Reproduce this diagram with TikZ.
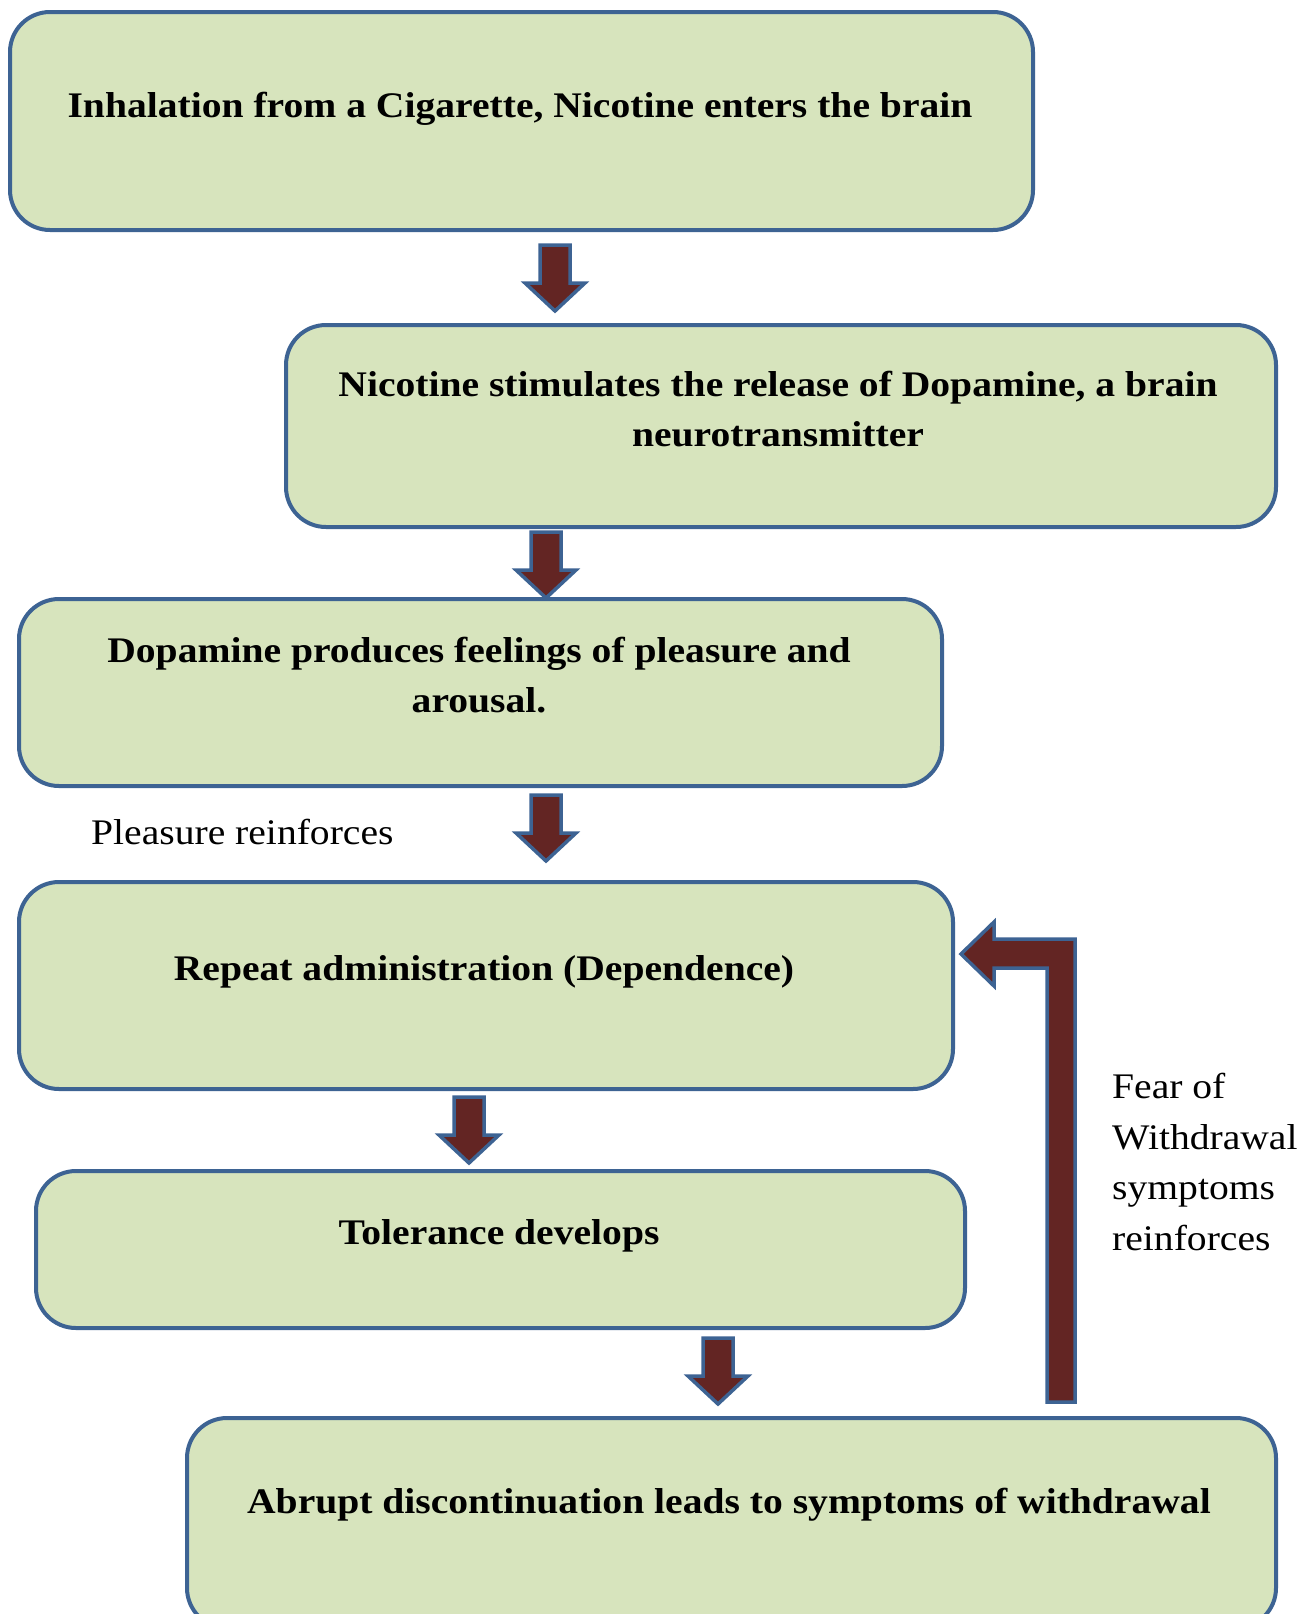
\documentclass[tikz,border=0pt]{standalone}
\usepackage{fontspec}
\setmainfont{Liberation Serif}[FakeStretch=1.1]
\definecolor{boxfill}{HTML}{D7E4BD}
\definecolor{boxline}{HTML}{3D6393}
\definecolor{arrowfill}{HTML}{632523}
\tikzset{
  flowbox/.style={draw=boxline, fill=boxfill, line width=4pt, rounded corners=40pt, anchor=north west, inner sep=0pt},
  boxtext/.style={font=\fontsize{36}{50}\selectfont\bfseries, align=center, inner sep=0pt},
  plaintext/.style={font=\fontsize{36}{50.5}\selectfont, align=left, inner sep=0pt},
  blockarrow/.style={draw=boxline, fill=arrowfill, line width=3.5pt, line join=miter},
}
\newcommand{\blockdown}[2]{%
  \draw[blockarrow, shift={(#1,#2)}] (-15,0) -- (15,0) -- (15,38) -- (30,38) -- (0,66) -- (-30,38) -- (-15,38) -- cycle;}
\begin{document}
\begin{tikzpicture}[x=1pt, y=-1pt]
\useasboundingbox (0,0) rectangle (1306,1614);
% boxes
\node[flowbox, minimum width=1023pt, minimum height=218pt] (b1) at (8,10) {};
\node[flowbox, minimum width=990pt, minimum height=202pt] (b2) at (284,323) {};
\node[flowbox, minimum width=923pt, minimum height=187pt] (b3) at (17,597) {};
\node[flowbox, minimum width=934pt, minimum height=207pt] (b4) at (17,880) {};
\node[flowbox, minimum width=929pt, minimum height=157pt] (b5) at (34,1169) {};
\node[flowbox, minimum width=1089pt, minimum height=210pt] (b6) at (185,1416) {};
% texts
\node[boxtext] (t1) at (520,109) {Inhalation from a Cigarette, Nicotine enters the brain};
\node[boxtext] (t2) at (778,409) {Nicotine stimulates the release of Dopamine, a brain\\neurotransmitter};
\node[boxtext] (t3) at (479,675) {Dopamine produces feelings of pleasure and\\arousal.};
\node[boxtext] (t4) at (484,972) {Repeat administration (Dependence)};
\node[boxtext] (t5) at (499,1236) {Tolerance develops};
\node[boxtext] (t6) at (729,1505) {Abrupt discontinuation leads to symptoms of withdrawal};
\node[plaintext, anchor=west] (l1) at (91,832) {Pleasure reinforces};
\node[plaintext, anchor=north west] (l2) at (1112,1073) {Fear of\\Withdrawal\\symptoms\\reinforces};
% down arrows
\blockdown{555}{245}
\blockdown{546}{532}
\blockdown{546}{795}
\blockdown{469}{1097}
\blockdown{718}{1338}
% bent arrow from withdrawal back to dependence
\draw[blockarrow] (1075,1402) -- (1075,939) -- (994,939) -- (994,922) -- (961,954) -- (994,986) -- (994,968) -- (1047,968) -- (1047,1402) -- cycle;
\end{tikzpicture}
\end{document}
